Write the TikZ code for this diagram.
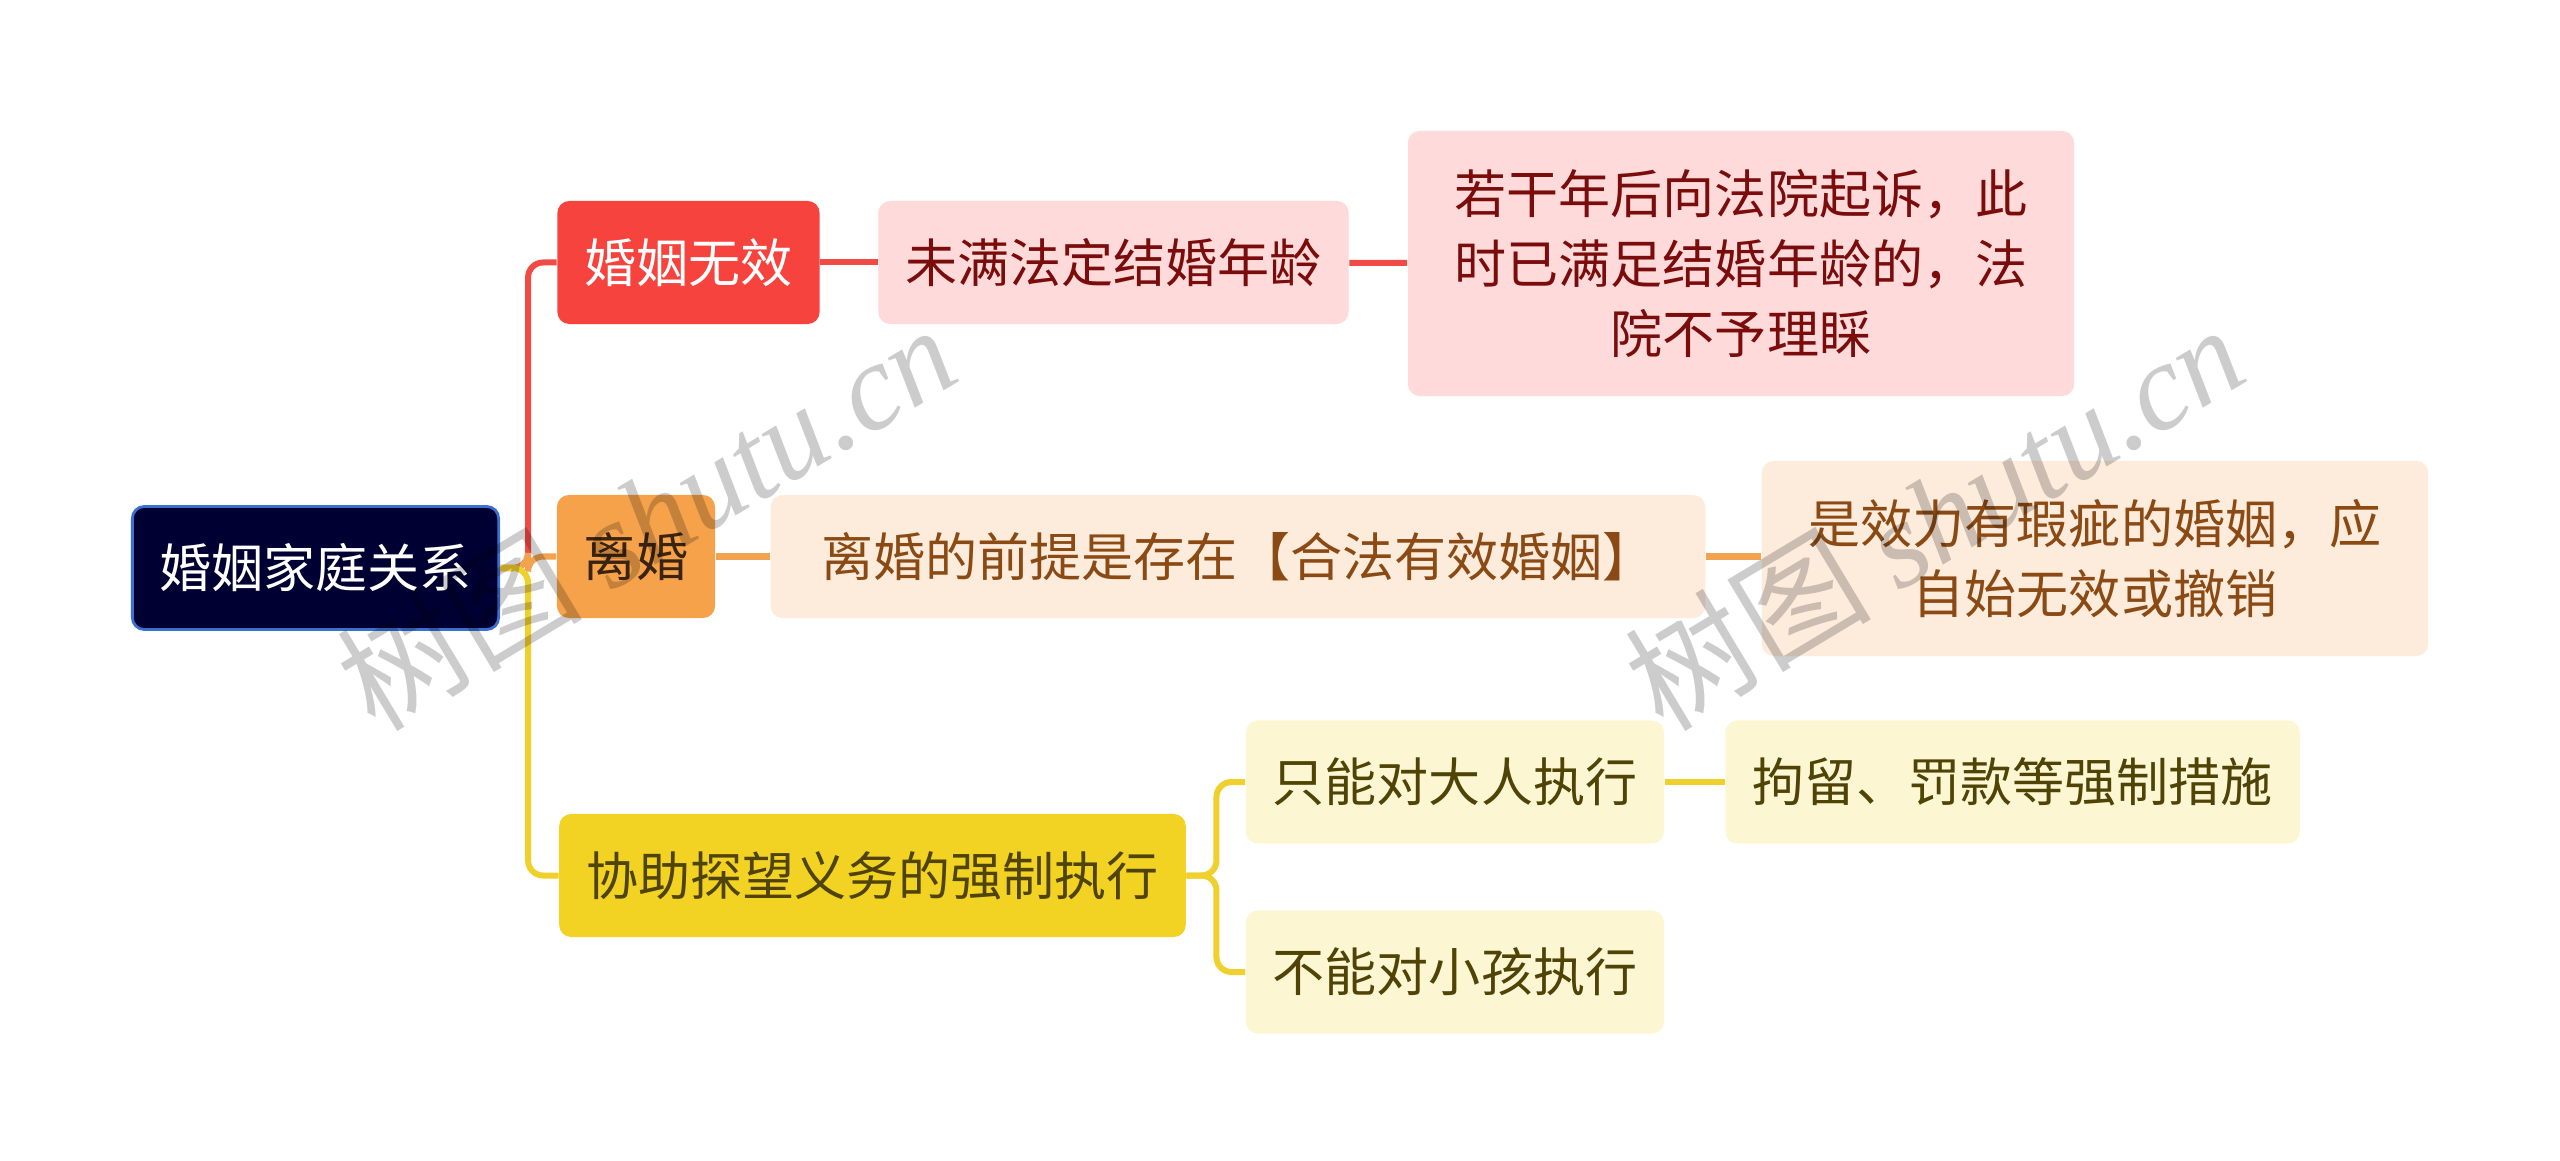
\documentclass[tikz,border=0pt]{standalone}
\usepackage{fontspec}
\usepackage{xcolor}
\usepackage{tikz}
\setmainfont{Noto Sans CJK SC}
\newfontfamily\cjk{Noto Sans CJK SC}
\newfontfamily\wmserif{Liberation Serif}
\definecolor{rootbg}{HTML}{000033}
\definecolor{rootedge}{HTML}{3B6FD0}
\definecolor{redmain}{HTML}{F6433D}
\definecolor{redsub}{HTML}{FFDADA}
\definecolor{redtext}{HTML}{7B0C0C}
\definecolor{redln}{HTML}{F04B45}
\definecolor{orgmain}{HTML}{F5A24A}
\definecolor{orgsub}{HTML}{FDEBDC}
\definecolor{orgtext}{HTML}{8B4A14}
\definecolor{orgdark}{HTML}{3A2410}
\definecolor{orgln}{HTML}{F2A350}
\definecolor{yelmain}{HTML}{F2D323}
\definecolor{yelsub}{HTML}{FDF6D3}
\definecolor{yeltext}{HTML}{4F4306}
\definecolor{yelln}{HTML}{F0D02C}
\tikzset{
  box/.style={rounded corners=0.12cm, minimum height=1.23cm, inner xsep=0.27cm, inner ysep=0pt,
    font=\fontsize{14.8pt}{20pt}\selectfont},
  rootbox/.style={box, fill=rootbg, draw=rootedge, line width=0.8pt, text=white},
  redbox/.style={box, fill=redmain, text=white},
  redleaf/.style={box, fill=redsub, text=redtext},
  orgbox/.style={box, fill=orgmain, text=orgdark},
  orgleaf/.style={box, fill=orgsub, text=orgtext},
  yelbox/.style={box, fill=yelmain, text=yeltext},
  yelleaf/.style={box, fill=yelsub, text=yeltext},
  tall/.style={align=center, inner xsep=0.4cm, minimum width=6.66cm},
  link/.style={line width=0.06cm, rounded corners=0.15cm},
  redline/.style={link, draw=redln},
  orgline/.style={link, draw=orgln},
  yelline/.style={link, draw=yelln},
  wmark/.style={text=black, text opacity=0.2, font=\fontsize{35pt}{35pt}\selectfont, inner sep=0pt},
}
\begin{document}
\begin{tikzpicture}[x=0.01cm, y=-0.01cm]
  \useasboundingbox (0,0) rectangle (2560,1161);
  \fill[white] (0,0) rectangle (2560,1161);

  % root
  \node[rootbox] (root) at (315.5,568) {婚姻家庭关系};

  % first branch
  \node[redbox] (wuxiao) at (688.5,262.5) {婚姻无效};
  \node[redleaf] (nianling) at (1113.5,262.5) {未满法定结婚年龄};
  \node[redleaf, tall, minimum height=2.65cm] (qisu) at (1741,263.5)
    {若干年后向法院起诉，此\\时已满足结婚年龄的，法\\院不予理睬};

  % second branch
  \node[orgbox] (lihun) at (636,556.5) {离婚};
  \node[orgleaf, minimum width=9.34cm] (qianti) at (1238,556.5) {离婚的前提是存在【合法有效婚姻】};
  \node[orgleaf, tall, minimum height=1.95cm] (xiaci) at (2095,558.5)
    {是效力有瑕疵的婚姻，应\\自始无效或撤销};

  % third branch
  \node[yelbox] (tanwang) at (872.5,875.5) {协助探望义务的强制执行};
  \node[yelleaf] (daren) at (1455,782) {只能对大人执行};
  \node[yelleaf] (cuoshi) at (2012.5,782) {拘留、罚款等强制措施};
  \node[yelleaf] (xiaohai) at (1455,972) {不能对小孩执行};

  % connectors
  \draw[redline] (root.east) -- ++(28,0) |- (wuxiao.west);
  \draw[orgline] (root.east) -- ++(28,0) |- (lihun.west);
  \draw[yelline] (root.east) -- ++(28,0) |- (tanwang.west);
  \draw[redline] (wuxiao) -- (nianling);
  \draw[redline] (nianling) -- (qisu);
  \draw[orgline] (lihun) -- (qianti);
  \draw[orgline] (qianti.east) -- (qianti.east -| xiaci.west);
  \draw[yelline] (tanwang.east) -- ++(30,0) |- (daren.west);
  \draw[yelline] (tanwang.east) -- ++(30,0) |- (xiaohai.west);
  \draw[yelline] (daren) -- (cuoshi);

  % watermarks
  \node[wmark, rotate=31] (wm1) at (646,516) {{\cjk 树图} {\wmserif\itshape shutu.cn}};
  \node[wmark, rotate=31] (wm2) at (1934,516) {{\cjk 树图} {\wmserif\itshape shutu.cn}};
\end{tikzpicture}
\end{document}
